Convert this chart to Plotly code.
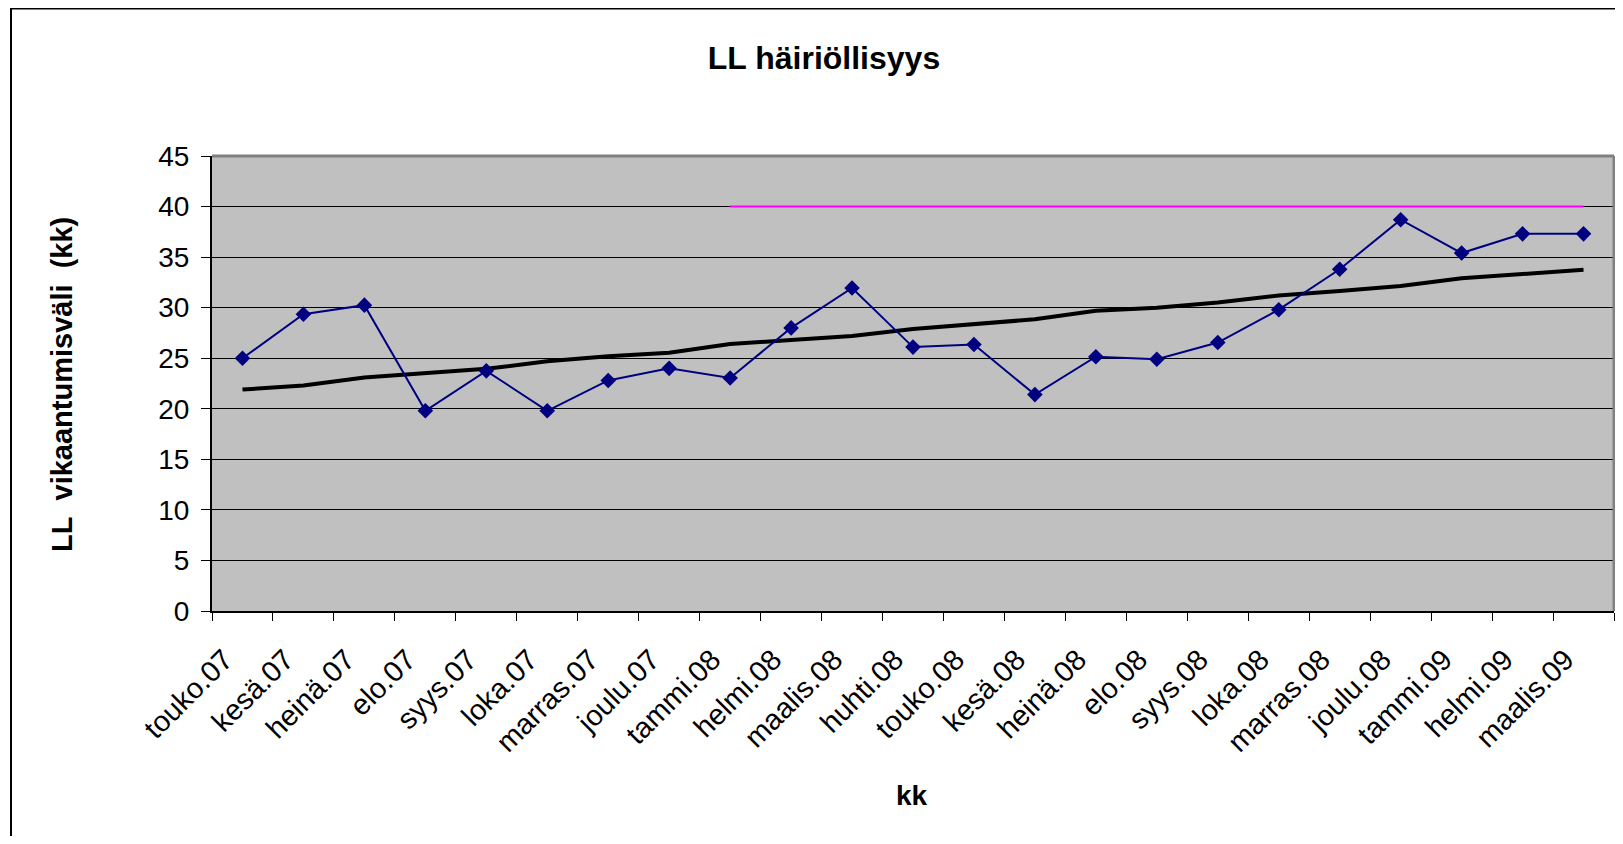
import plotly.graph_objects as go

months = ["touko.07", "kesä.07", "heinä.07", "elo.07", "syys.07", "loka.07",
          "marras.07", "joulu.07", "tammi.08", "helmi.08", "maalis.08", "huhti.08",
          "touko.08", "kesä.08", "heinä.08", "elo.08", "syys.08", "loka.08",
          "marras.08", "joulu.08", "tammi.09", "helmi.09", "maalis.09"]
values = [25.0, 29.35, 30.25, 19.8, 23.75, 19.8, 22.8, 24.0, 23.05, 28.0, 31.95,
          26.1, 26.35, 21.4, 25.15, 24.9, 26.55, 29.8, 33.8, 38.7, 35.4, 37.3, 37.3]
trend = [21.9, 22.3, 23.1, 23.5, 23.95, 24.7, 25.2, 25.55, 26.4, 26.8, 27.2,
         27.9, 28.4, 28.85, 29.7, 30.0, 30.5, 31.2, 31.65, 32.15, 32.9, 33.3, 33.75]
target_months = months[8:]
target = [40] * len(target_months)

y_ticks = [0, 5, 10, 15, 20, 25, 30, 35, 40, 45]

FONT = "Liberation Sans, Arial, sans-serif"

fig = go.Figure()
fig.add_trace(go.Scatter(x=target_months, y=target, mode="lines",
                         line=dict(color="#FF00FF", width=2), showlegend=False))
fig.add_trace(go.Scatter(x=months, y=trend, mode="lines",
                         line=dict(color="black", width=4), showlegend=False))
fig.add_trace(go.Scatter(x=months, y=values, mode="lines+markers",
                         line=dict(color="#000080", width=2),
                         marker=dict(symbol="diamond", size=12, color="#000080"),
                         showlegend=False))

# the page body has an 8px margin, so figure coords = screen - 8
W, H = 1607, 828
L, R, T, B = 204, 1, 148, 225
pw, ph = W - L - R, H - T - B

def px_x(x):
    return (x - L) / pw

def px_y(y):
    return (H - B - y) / ph

fig.update_layout(
    width=W, height=H,
    margin=dict(l=L, r=R, t=T, b=B),
    paper_bgcolor="white",
    plot_bgcolor="#C0C0C0",
    font=dict(family=FONT, color="black"),
    title=dict(text="<b>LL häiriöllisyys</b>", x=816 / W, xanchor="center",
               y=1 - 50 / H, yanchor="middle", font=dict(size=32, family=FONT)),
    xaxis=dict(type="category", categoryorder="array", categoryarray=months,
               range=[-0.5, len(months) - 0.5],
               tickson="boundaries", ticks="outside", ticklen=8, tickcolor="black",
               tickwidth=1, tickangle=-45, tickfont=dict(size=29, family=FONT),
               showgrid=False, showline=True, linecolor="black", linewidth=2,
               ticklabelstandoff=18, ticklabelshift=-18, fixedrange=True),
    yaxis=dict(range=[0, 45], tickvals=y_ticks, ticks="outside", ticklen=9,
               tickcolor="black", tickwidth=1, tickfont=dict(size=28, family=FONT),
               showgrid=True, gridcolor="black", gridwidth=1, zeroline=False,
               showline=True, linecolor="black", linewidth=2,
               ticklabelstandoff=6, fixedrange=True),
    annotations=[
        dict(text="<b>kk</b>", xref="paper", yref="paper", x=px_x(904), y=px_y(787),
             xanchor="center", yanchor="middle", showarrow=False,
             font=dict(size=28, family=FONT)),
        dict(text="<b>LL&nbsp; vikaantumisväli&nbsp; (kk)</b>", xref="paper", yref="paper",
             x=px_x(54), y=px_y(377), xanchor="center", yanchor="middle",
             textangle=-90, showarrow=False, font=dict(size=29, family=FONT)),
    ],
    shapes=[
        # plot area border (top and right)
        dict(type="line", xref="paper", yref="paper", x0=0, x1=1, y0=1, y1=1,
             line=dict(color="#808080", width=3)),
        dict(type="line", xref="paper", yref="paper", x0=1, x1=1, y0=0, y1=1,
             line=dict(color="#808080", width=3)),
        # chart frame (left and top)
        dict(type="line", xref="paper", yref="paper", x0=px_x(3), x1=px_x(W + 5),
             y0=px_y(0), y1=px_y(0), line=dict(color="black", width=3)),
        dict(type="line", xref="paper", yref="paper", x0=px_x(3), x1=px_x(3),
             y0=px_y(0), y1=px_y(H + 5), line=dict(color="black", width=2)),
    ],
)

fig.write_html("out.html")
